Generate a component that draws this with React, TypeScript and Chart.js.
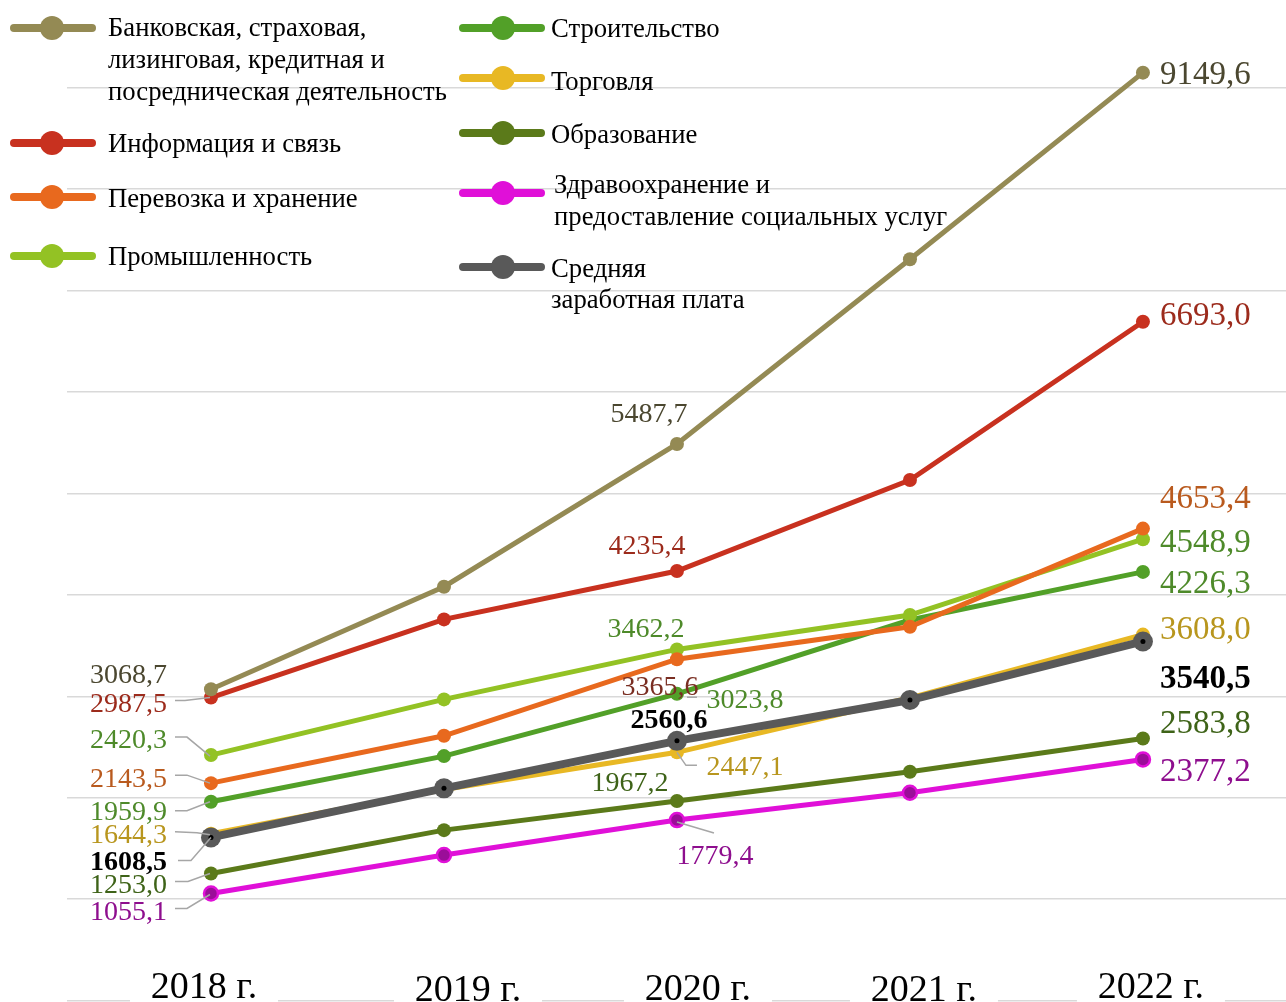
import React, { useEffect, useRef } from "react";
import { Chart, registerables } from "chart.js";

Chart.register(...registerables);

// ---------- DATA ----------
const categories = ["2018 г.", "2019 г.", "2020 г.", "2021 г.", "2022 г."];

const seriesNames = [
  "Банковская, страховая, лизинговая, кредитная и посредническая деятельность",
  "Информация и связь",
  "Перевозка и хранение",
  "Промышленность",
  "Строительство",
  "Торговля",
  "Образование",
  "Здравоохранение и предоставление социальных услуг",
  "Средняя заработная плата",
];

const banking = [3068.7, 4080, 5487.7, 7310, 9149.6];
const infoComm = [2987.5, 3758, 4235.4, 5132, 6693.0];
const transport = [2143.5, 2610, 3365.6, 3686, 4653.4];
const industry = [2420.3, 2969, 3462.2, 3801, 4548.9];
const construction = [1959.9, 2410, 3023.8, 3752, 4226.3];
const trade = [1644.3, 2080, 2447.1, 2985, 3608.0];
const education = [1253.0, 1680, 1967.2, 2256, 2583.8];
const health = [1055.1, 1434, 1779.4, 2049, 2377.2];
const averageWage = [1608.5, 2092, 2560.6, 2963, 3540.5];

const seriesValues = [banking, infoComm, transport, industry, construction, trade, education, health, averageWage];

const yTickStep = 1000;
const yMax = 9866;

// ---------- STYLE ----------
const SERIF = '"Liberation Serif", "Times New Roman", serif';
const lineColors = ["#948A54", "#C8311F", "#E8691E", "#93C224", "#52A028", "#E8B824", "#5B7A1A", "#E010D8", "#595959"];
const labelColors = ["#4B4730", "#9C2B1C", "#B95A1E", "#4E8A2A", "#4E8A2A", "#B8961E", "#3E6318", "#8E0E8E", "#000000"];
const drawOrder = [1, 2, 3, 4, 5, 8, 6, 7, 0];

const legendLayout = [
  { s: 0, lx: 14, mx: 52, my: 28, tx: 108, lines: ["Банковская, страховая,", "лизинговая, кредитная и", "посредническая деятельность"], base: [36, 68, 100] },
  { s: 1, lx: 14, mx: 52, my: 143, tx: 108, lines: ["Информация и связь"], base: [152] },
  { s: 2, lx: 14, mx: 52, my: 197, tx: 108, lines: ["Перевозка и хранение"], base: [207] },
  { s: 3, lx: 14, mx: 52, my: 256, tx: 108, lines: ["Промышленность"], base: [265] },
  { s: 4, lx: 463, mx: 503, my: 28, tx: 551, lines: ["Строительство"], base: [37] },
  { s: 5, lx: 463, mx: 503, my: 78, tx: 551, lines: ["Торговля"], base: [90] },
  { s: 6, lx: 463, mx: 503, my: 133, tx: 551, lines: ["Образование"], base: [143] },
  { s: 7, lx: 463, mx: 503, my: 193, tx: 554, lines: ["Здравоохранение и", "предоставление социальных услуг"], base: [193, 225] },
  { s: 8, lx: 463, mx: 503, my: 267, tx: 551, lines: ["Средняя", "заработная плата"], base: [277, 308] },
];

type Lbl = {
  s: number; i: number; dx: number; dy: number; align: CanvasTextAlign; size: number;
  bold?: boolean; color?: string; leader?: number[][];
};

const L = (s: number, i: number, dx: number, dy: number, align: CanvasTextAlign, size: number, extra: Partial<Lbl> = {}): Lbl =>
  ({ s, i, dx, dy, align, size, ...extra });

const dataLabelLayout: Lbl[] = [
  L(0, 0, -44, -16, "right", 28),
  L(1, 0, -44, 4.5, "right", 28, { leader: [[-36, 3], [-26, 3], [-1, 0]] }),
  L(3, 0, -44, -17, "right", 28, { leader: [[-36, -18], [-24, -18], [-1, 1]] }),
  L(2, 0, -44, -6, "right", 28, { leader: [[-36, -8], [-24, -8], [-1, 0]] }),
  L(4, 0, -44, 9, "right", 28, { leader: [[-36, 9], [-24, 9], [-1, 0]] }),
  L(5, 0, -44, 0, "right", 28, { leader: [[-36, -2], [-14, -1], [-1, 1]] }),
  L(8, 0, -44, 23, "right", 28, { bold: true, leader: [[-33, 23], [-20, 23], [0, 0]] }),
  L(6, 0, -44, 10, "right", 28, { leader: [[-36, 8], [-23, 8], [-1, 0]] }),
  L(7, 0, -44, 17, "right", 28, { leader: [[-36, 15], [-24, 15], [-1, 1]] }),

  L(0, 2, -28, -31, "center", 28),
  L(1, 2, -30, -26, "center", 28),
  L(3, 2, -31, -22, "center", 28),
  L(2, 2, -17, 26, "center", 28, { color: "#7A2E22", leader: [[10, 38], [20, 38]] }),
  L(4, 2, 68, 5, "center", 28),
  L(8, 2, -8, -22, "center", 28, { bold: true }),
  L(5, 2, 68, 13, "center", 28, { leader: [[0, 0], [9, 13], [20, 13]] }),
  L(6, 2, -47, -19, "center", 28),
  L(7, 2, 38, 34, "center", 28, { leader: [[0, 2], [37, 13]] }),

  L(0, 4, 17, 0, "left", 33),
  L(1, 4, 17, -8, "left", 33),
  L(2, 4, 17, -32, "left", 33),
  L(3, 4, 17, 2, "left", 33),
  L(4, 4, 17, 10, "left", 33),
  L(5, 4, 17, -7, "left", 33),
  L(8, 4, 17, 35, "left", 33, { bold: true }),
  L(6, 4, 17, -17, "left", 33),
  L(7, 4, 17, 10, "left", 33),
];

const xLabelShift = [[-7, 0], [24, 3], [21, 2], [14, 3], [8, 0]];

const fmt = (v: number) => v.toFixed(1).replace(".", ",");

const decorPlugin = {
  id: "decor",
  afterDatasetsDraw(chart: any) {
    const ctx: CanvasRenderingContext2D = chart.ctx;
    const xs = chart.scales.x;
    const ys = chart.scales.y;
    ctx.save();

    // dots in the average wage markers
    const meanIdx = seriesValues.length - 1;
    ctx.fillStyle = "#000";
    seriesValues[meanIdx].forEach((v, i) => {
      ctx.beginPath();
      ctx.arc(xs.getPixelForValue(i), ys.getPixelForValue(v), 2.5, 0, Math.PI * 2);
      ctx.fill();
    });

    // leader lines
    ctx.strokeStyle = "#A6A6A6";
    ctx.lineWidth = 1.5;
    dataLabelLayout.forEach((l) => {
      if (!l.leader) return;
      const px = xs.getPixelForValue(l.i);
      const py = ys.getPixelForValue(seriesValues[l.s][l.i]);
      ctx.beginPath();
      l.leader.forEach(([dx, dy], k) => {
        if (k === 0) ctx.moveTo(px + dx, py + dy);
        else ctx.lineTo(px + dx, py + dy);
      });
      ctx.stroke();
    });

    // data labels
    dataLabelLayout.forEach((l) => {
      const v = seriesValues[l.s][l.i];
      const px = xs.getPixelForValue(l.i);
      const py = ys.getPixelForValue(v);
      ctx.font = `${l.bold ? "bold " : ""}${l.size}px ${SERIF}`;
      ctx.fillStyle = l.color || labelColors[l.s];
      ctx.textAlign = l.align;
      ctx.textBaseline = "alphabetic";
      ctx.fillText(fmt(v), px + l.dx, py + l.dy + l.size * 0.338);
    });

    // legend
    legendLayout.forEach((e) => {
      const c = lineColors[e.s];
      ctx.strokeStyle = c;
      ctx.lineWidth = 8;
      ctx.lineCap = "round";
      ctx.beginPath();
      ctx.moveTo(e.lx, e.my);
      ctx.lineTo(e.lx + 78, e.my);
      ctx.stroke();
      ctx.fillStyle = c;
      ctx.beginPath();
      ctx.arc(e.mx, e.my, 12, 0, Math.PI * 2);
      ctx.fill();
      ctx.fillStyle = "#000";
      ctx.font = `26.7px ${SERIF}`;
      ctx.textAlign = "left";
      ctx.textBaseline = "alphabetic";
      e.lines.forEach((t, k) => ctx.fillText(t, e.tx, e.base[k]));
    });

    // category labels over the base line
    const bottom = chart.chartArea.bottom;
    ctx.font = `38px ${SERIF}`;
    ctx.textAlign = "center";
    categories.forEach((c, i) => {
      const cx = xs.getPixelForValue(i) + xLabelShift[i][0];
      ctx.fillStyle = "#fff";
      ctx.fillRect(cx - 74, bottom - 48, 148, 60);
      ctx.fillStyle = "#000";
      ctx.fillText(c, cx, bottom - 3 + xLabelShift[i][1]);
    });

    ctx.restore();
  },
};

export default function App() {
  const ref = useRef<HTMLCanvasElement>(null);

  useEffect(() => {
    if (!ref.current) return;
    const datasets = seriesValues.map((vals, s) => {
      const isMean = s === seriesValues.length - 1;
      const isHealth = s === 7;
      return {
        label: seriesNames[s],
        data: vals.map((v, i) => ({ x: i, y: v })),
        borderColor: lineColors[s],
        backgroundColor: lineColors[s],
        borderWidth: isMean ? 8 : 5,
        pointRadius: isMean ? 10 : 7,
        pointBackgroundColor: isHealth ? "#9B0E99" : lineColors[s],
        pointBorderColor: lineColors[s],
        pointBorderWidth: isHealth ? 2.5 : 0,
        tension: 0,
        order: drawOrder[s],
        clip: false,
      };
    });

    const chart = new Chart(ref.current, {
      type: "line",
      data: { datasets },
      options: {
        animation: false,
        responsive: false,
        devicePixelRatio: 1,
        layout: { autoPadding: false, padding: { left: 67, right: 0, top: 0, bottom: 1.5 } },
        plugins: { legend: { display: false }, tooltip: { enabled: false } },
        scales: {
          x: { type: "linear", min: -0.618, max: 4.614, display: false },
          y: {
            type: "linear",
            min: 0,
            max: yMax,
            grid: { color: "#D9D9D9", lineWidth: 1.5, drawTicks: false },
            border: { display: false },
            ticks: { display: false },
            afterBuildTicks: (scale: any) => {
              const t = [];
              for (let v = 0; v <= yMax; v += yTickStep) t.push({ value: v });
              scale.ticks = t;
            },
          },
        },
      } as any,
      plugins: [decorPlugin],
    });
    return () => chart.destroy();
  }, []);

  return (
    <div style={{ position: "absolute", left: 0, top: 0, width: 1286, height: 1002, background: "#fff" }}>
      <canvas ref={ref} width={1286} height={1002} style={{ display: "block" }} />
    </div>
  );
}
